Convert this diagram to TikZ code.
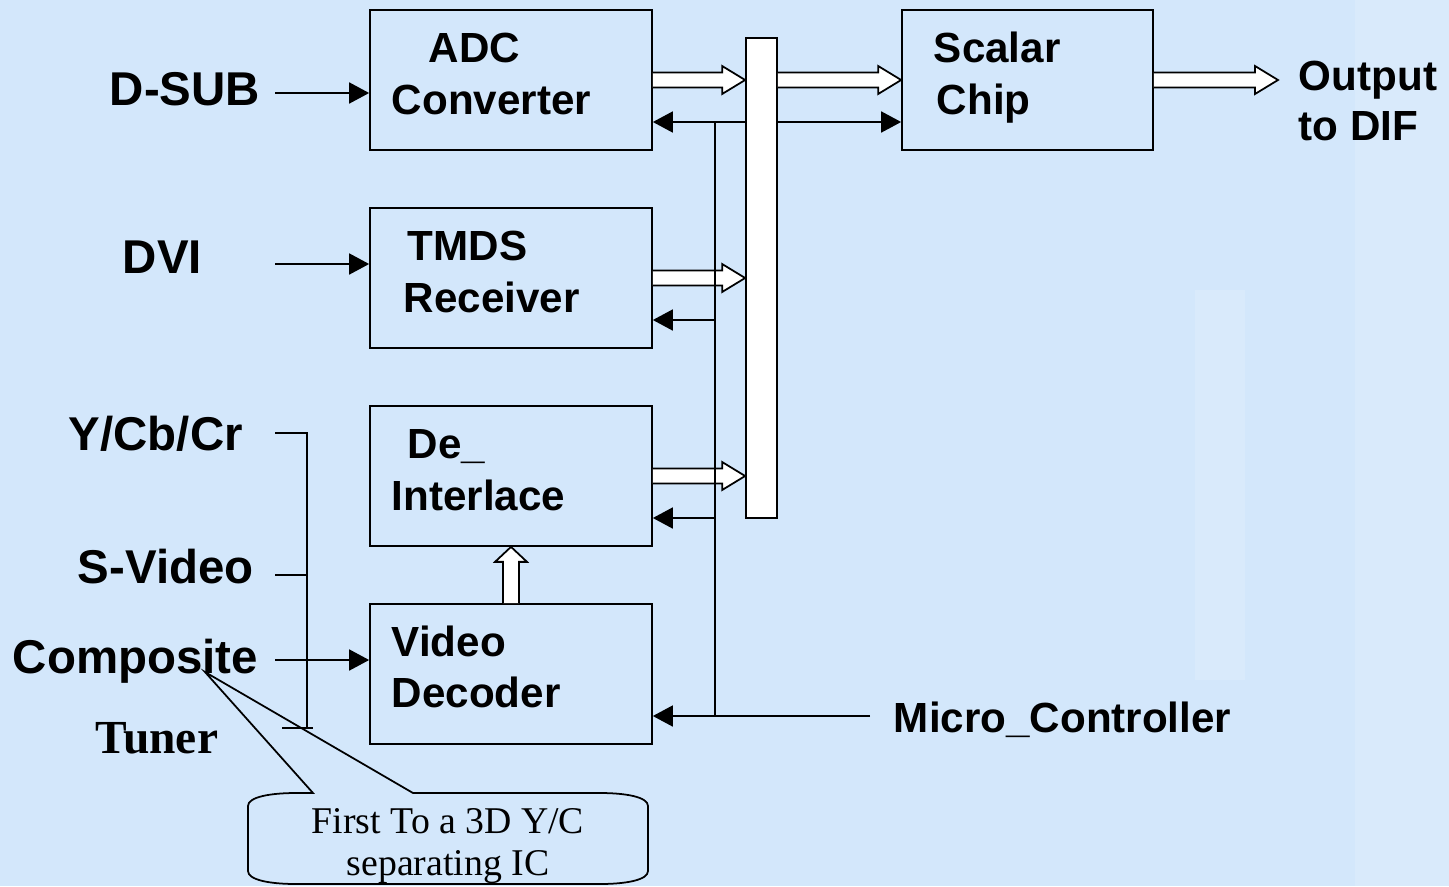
\documentclass[tikz,border=0pt]{standalone}
\usepackage{fontspec}
\setmainfont{Liberation Serif}
\newfontfamily\arialfont{Liberation Sans}
\usetikzlibrary{positioning,calc,arrows.meta}
\definecolor{bg-blue}{RGB}{211,231,251}
\definecolor{pale-blue}{RGB}{228,240,252}

% hollow bus arrow pointing right, from #1 to #2
\newcommand{\fatarrow}[2]{%
  \draw[fill=white] ($(#1)+(0,-7.5)$) -- ($(#2)+(-23,-7.5)$) -- ($(#2)+(-23,-14)$) -- (#2)
    -- ($(#2)+(-23,14)$) -- ($(#2)+(-23,7.5)$) -- ($(#1)+(0,7.5)$);}

\begin{document}
\begin{tikzpicture}
[
  x=0.02cm, y=-0.02cm, line width=1pt,
  block/.style={rectangle,draw,minimum width=5.64cm,minimum height=2.8cm,inner sep=0pt},
  boxtext/.style={anchor=base west,inner sep=0pt,font=\arialfont\bfseries\fontsize{24}{28}\selectfont},
  intext/.style={anchor=base west,inner sep=0pt,font=\arialfont\bfseries\fontsize{27}{30}\selectfont},
  notetext/.style={anchor=base,inner sep=0pt,font=\fontsize{21.5}{24}\selectfont},
  sig/.style={-{Triangle[length=0.4cm,width=0.42cm]}},
]
\useasboundingbox (0,0) rectangle (1449,886);
\fill[bg-blue] (0,0) rectangle (1449,886);
% faint screen behind the diagram
\fill[pale-blue,opacity=0.4] (1195,290) rectangle (1245,680);
\fill[pale-blue,opacity=0.4] (1355,0) rectangle (1449,886);

% blocks
\node[block] (adc) at (511,80) {};
\node[block] (tmds) at (511,278) {};
\node[block] (deint) at (511,476) {};
\node[block] (vdec) at (511,674) {};
\node[block,minimum width=5.02cm] (scalar) at (1027.5,80) {};
\node[rectangle,draw,fill=white,minimum width=0.62cm,minimum height=9.6cm,inner sep=0pt] (bus) at (761.5,278) {};

\node[boxtext] (adc1) at (428,62) {ADC};
\node[boxtext] (adc2) at (391,114) {Converter};
\node[boxtext] (tmds1) at (407,260) {TMDS};
\node[boxtext] (tmds2) at (403,312) {Receiver};
\node[boxtext] (deint1) at (407,458) {De\_};
\node[boxtext] (deint2) at (391,510) {Interlace};
\node[boxtext] (vdec1) at (391,656) {Video};
\node[boxtext] (vdec2) at (391,707) {Decoder};
\node[boxtext] (scalar1) at (933,62) {Scalar};
\node[boxtext] (scalar2) at (936,114) {Chip};
\node[boxtext] (out1) at (1298,90) {Output};
\node[boxtext] (out2) at (1298,140) {to DIF};
\node[boxtext] (mc) at (893,732) {Micro\_Controller};

% inputs
\node[intext] (dsub) at (109,105) {D-SUB};
\node[intext] (dvi) at (122,273) {DVI};
\node[intext] (ycbcr) at (68,450) {Y/Cb/Cr};
\node[intext] (svideo) at (77,583) {S-Video};
\node[intext] (comp) at (12,673) {Composite};
\node[anchor=base west,inner sep=0pt,font=\bfseries\fontsize{27}{30}\selectfont] (tuner) at (95,753) {Tuner};

\coordinate (dsubin) at (275,93);
\coordinate (dviin) at (275,264);
\coordinate (compin) at (275,660);
\coordinate (ycin) at (275,433);
\coordinate (svin) at (275,575);
\coordinate (tunin) at (282,728);
\draw[sig] (dsubin) -- (dsubin -| adc.west);
\draw[sig] (dviin) -- (dviin -| tmds.west);
\draw[sig] (compin) -- (compin -| vdec.west);
\draw (ycin) -- (307,433) -- (307,728);
\draw (svin) -- (307,575);
\draw (tunin) -- (313,728);

% data path
\coordinate (adcbus) at (bus.west |- adc.east);
\coordinate (tmdsbus) at (bus.west |- tmds.east);
\coordinate (deintbus) at (bus.west |- deint.east);
\coordinate (busout) at (bus.east |- scalar.west);
\coordinate (outtip) at (1278,80);
\fatarrow{adc.east}{adcbus}
\fatarrow{tmds.east}{tmdsbus}
\fatarrow{deint.east}{deintbus}
\fatarrow{busout}{scalar.west}
\fatarrow{scalar.east}{outtip}
\draw[fill=white] ($(vdec.north)+(-8,0)$) -- ($(deint.south)+(-8,15)$) -- ($(deint.south)+(-16,15)$) -- (deint.south)
  -- ($(deint.south)+(16,15)$) -- ($(deint.south)+(8,15)$) -- ($(vdec.north)+(8,0)$);

% control lines from the micro controller
\coordinate (ctl1) at ($(adc.east)+(62,42)$);
\coordinate (ctl2) at ($(tmds.east)+(62,42)$);
\coordinate (ctl3) at ($(deint.east)+(62,42)$);
\coordinate (ctl4) at ($(vdec.east)+(62,42)$);
\coordinate (mcend) at (870,716);
\draw (ctl1) -- (ctl4);
\draw[sig] (ctl1 -| bus.west) -- (ctl1 -| adc.east);
\draw[sig] (ctl1 -| bus.east) -- (ctl1 -| scalar.west);
\draw[sig] (ctl2) -- (ctl2 -| tmds.east);
\draw[sig] (ctl3) -- (ctl3 -| deint.east);
\draw[sig] (mcend) -- (ctl4 -| vdec.east);

% callout
\coordinate (callpt) at (205,672);
\draw (413,793) -- (600,793) .. controls (626,793) and (648,797) .. (648,806) -- (648,871)
  .. controls (648,880) and (626,884) .. (600,884) -- (296,884)
  .. controls (270,884) and (248,880) .. (248,871) -- (248,806)
  .. controls (248,797) and (270,793) .. (296,793) -- (313,793) -- (callpt) -- cycle;
\node[notetext] (note1) at (448,833) {First To a 3D Y/C};
\node[notetext] (note2) at (448,875) {separating IC};
\end{tikzpicture}
\end{document}
